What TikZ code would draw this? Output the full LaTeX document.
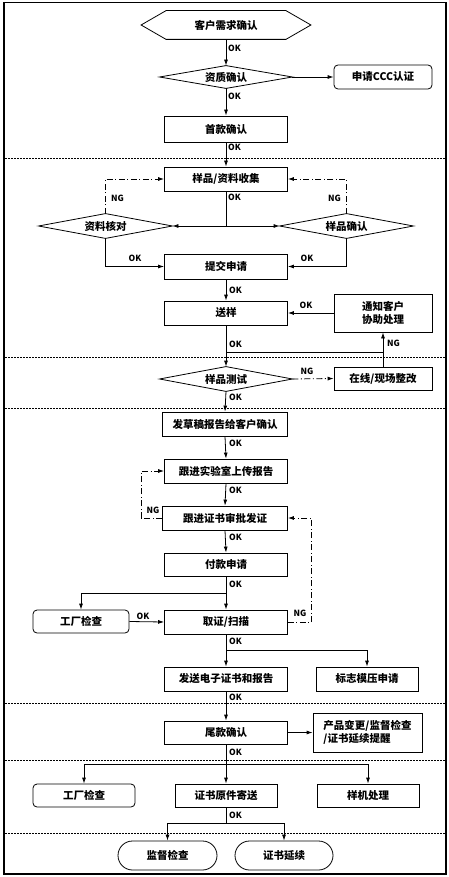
\documentclass[tikz,border=0pt]{standalone}
\usepackage{fontspec}
\setmainfont{Noto Sans CJK SC}
\usetikzlibrary{arrows.meta}
\begin{document}
\begin{tikzpicture}[x=1pt,y=-1pt,
  box/.style={draw, line width=0.8pt, minimum width=123pt, minimum height=24pt, inner sep=0pt, font=\bfseries\fontsize{10.5}{13}\selectfont},
  shp/.style={box, draw=none},
  rbox/.style={box, rounded corners=4pt},
  lbl/.style={font=\bfseries\fontsize{8.5}{10}\selectfont, inner sep=1pt},
  arr/.style={-{Latex[length=6pt,width=4pt]}, line width=0.8pt},
  ln/.style={line width=0.8pt},
  ng/.style={arr, dash pattern=on 6pt off 2.5pt on 1pt off 2.5pt},
  ngl/.style={ln, dash pattern=on 6pt off 2.5pt on 1pt off 2.5pt},
  sepl/.style={dash pattern=on 1.5pt off 1.5pt, line width=0.6pt}]
\useasboundingbox (0,0) rectangle (449,877);
\fill[white] (0,0) rectangle (449,877);
\draw[line width=1.8pt] (4,2.5) rectangle (446,874);
% separators
\foreach \yy in {158,357,408,703,760,833} \draw[sepl] (5,\yy) -- (445,\yy);

% nodes
\node[shp, minimum width=169pt, minimum height=28pt] (hex) at (226,25) {客户需求确认};
\draw[ln] (hex.west) -- ([xshift=25pt]hex.north west) -- ([xshift=-25pt]hex.north east) -- (hex.east) -- ([xshift=-25pt]hex.south east) -- ([xshift=25pt]hex.south west) -- cycle;
\node[shp, minimum width=132pt, minimum height=22pt] (d1) at (226,77) {资质确认};
\draw[ln] (d1.west) -- (d1.north) -- (d1.east) -- (d1.south) -- cycle;
\node[rbox, minimum width=98pt] (ccc) at (383,77) {申请CCC认证};
\node[box, minimum height=26pt] (sk) at (226,129) {首款确认};
\node[box] (yp) at (226,179) {样品/资料收集};
\node[shp, minimum width=133pt, minimum height=24pt] (zl) at (105.5,226) {资料核对};
\draw[ln] (zl.west) -- (zl.north) -- (zl.east) -- (zl.south) -- cycle;
\node[shp, minimum width=133pt, minimum height=24pt] (ypq) at (346.5,226) {样品确认};
\draw[ln] (ypq.west) -- (ypq.north) -- (ypq.east) -- (ypq.south) -- cycle;
\node[box, minimum height=25pt] (tj) at (226,266.5) {提交申请};
\node[box] (sy) at (226,313) {送样};
\node[box, minimum width=98pt, minimum height=38pt, align=center] (tz) at (383,313) {通知客户\\协助处理};
\node[shp, minimum width=132pt, minimum height=24pt] (cs) at (226,379) {样品测试};
\draw[ln] (cs.west) -- (cs.north) -- (cs.east) -- (cs.south) -- cycle;
\node[box, minimum width=98pt, minimum height=23pt] (zg) at (383,378.5) {在线/现场整改};
\node[box, minimum width=125pt] (fc) at (225,424) {发草稿报告给客户确认};
\node[box] (gj) at (226,471) {跟进实验室上传报告};
\node[box, minimum width=125pt] (gz) at (225,518) {跟进证书审批发证};
\node[box, minimum height=23pt] (fk) at (226,564.5) {付款申请};
\node[rbox, minimum width=96pt, minimum height=23pt] (gc1) at (81,621.5) {工厂检查};
\node[box] (qz) at (226,622) {取证/扫描};
\node[box] (fs) at (226,679) {发送电子证书和报告};
\node[box, minimum width=102pt] (bz) at (367,679) {标志模压申请};
\node[box, minimum height=23pt] (wk) at (226,732.5) {尾款确认};
\node[box, minimum width=109pt, minimum height=39pt, align=left] (cp) at (367.5,732.5) {产品变更/监督检查\\/证书延续提醒};
\node[rbox, minimum width=102pt, minimum height=23pt] (gc2) at (84,795.5) {工厂检查};
\node[box, minimum width=102pt, minimum height=23pt] (zs) at (226,795.5) {证书原件寄送};
\node[box, minimum width=102pt, minimum height=23pt] (yj) at (368,795.5) {样机处理};
\node[box, minimum width=99pt, minimum height=29pt, rounded corners=14.5pt] (jd) at (167.5,855.5) {监督检查};
\node[box, minimum width=98pt, minimum height=29pt, rounded corners=14.5pt] (zx) at (284,855.5) {证书延续};

% coordinates
\coordinate (j1) at (226,226);
\coordinate (j2) at (383,352);
\coordinate (j3) at (226,352);
\coordinate (j4) at (141,518);
\coordinate (j5) at (311,622);
\coordinate (j6) at (226,593);
\coordinate (j7) at (226,650);
\coordinate (j8) at (226,764);
\coordinate (j9) at (226,823);

% connectors
\draw[arr] (hex.south) -- (d1.north);
\node[lbl, anchor=west] at (227,48) {OK};
\draw[arr] (d1.east) -- (ccc.west);
\draw[arr] (d1.south) -- (sk.north);
\node[lbl, anchor=west] at (227,96) {OK};
\draw[arr] (sk.south) -- (yp.north);
\node[lbl, anchor=west] at (227,147) {OK};
\draw[ln] (yp.south) -- (j1);
\draw[arr] (j1) -- (zl.east);
\draw[arr] (j1) -- (ypq.west);
\node[lbl, anchor=west] at (227,197) {OK};
\draw[ng] (zl.north) |- (yp.west);
\node[lbl, anchor=west] at (110,198) {NG};
\draw[ng] (ypq.north) |- (yp.east);
\node[lbl, anchor=east] at (342,198) {NG};
\draw[arr] (zl.south) |- (tj.west);
\node[lbl] at (135,258) {OK};
\draw[arr] (ypq.south) |- (tj.east);
\node[lbl] at (307,258) {OK};
\draw[arr] (tj.south) -- (sy.north);
\node[lbl, anchor=west] at (228,290) {OK};
\draw[arr] (tz.west) -- (sy.east);
\node[lbl] at (306,305) {OK};
\draw[arr] (sy.south) -- (cs.north);
\node[lbl, anchor=west] at (228,344) {OK};
\draw[arr] (zg.north) -- (tz.south);
\node[lbl, anchor=west] at (386,343) {NG};
\draw[ln] (j2) -- (j3);
\draw[ng] (cs.east) -- (zg.west);
\node[lbl] at (307,371) {NG};
\draw[arr] (cs.south) -- (fc.north);
\node[lbl, anchor=west] at (228,397) {OK};
\draw[arr] (fc.south) -- (gj.north);
\node[lbl, anchor=west] at (228,443) {OK};
\draw[arr] (gj.south) -- (gz.north);
\node[lbl, anchor=west] at (228,490) {OK};
\draw[ngl] (gz.west) -- (j4);
\draw[ng] (j4) |- (gj.west);
\node[lbl] at (153,510) {NG};
\draw[arr] (gz.south) -- (fk.north);
\node[lbl, anchor=west] at (228,537) {OK};
\draw[arr] (fk.south) -- (qz.north);
\node[lbl, anchor=west] at (228,584) {OK};
\draw[arr] (j6) -| (gc1.north);
\draw[arr] (gc1.east) -- (qz.west);
\node[lbl] at (143,616) {OK};
\draw[ngl] (qz.east) -- (j5);
\draw[ng] (j5) |- (gz.east);
\node[lbl] at (300,613) {NG};
\draw[arr] (qz.south) -- (fs.north);
\node[lbl, anchor=west] at (228,641) {OK};
\draw[arr] (j7) -| (bz.north);
\draw[arr] (fs.south) -- (wk.north);
\node[lbl, anchor=west] at (228,697) {OK};
\draw[arr] (wk.east) -- (cp.west);
\draw[arr] (wk.south) -- (zs.north);
\node[lbl, anchor=west] at (228,752) {OK};
\draw[arr] (j8) -| (gc2.north);
\draw[arr] (j8) -| (yj.north);
\draw[ln] (zs.south) -- (j9);
\draw[arr] (j9) -| (jd.north);
\draw[arr] (j9) -| (zx.north);
\node[lbl, anchor=west] at (228,815) {OK};
\end{tikzpicture}
\end{document}
